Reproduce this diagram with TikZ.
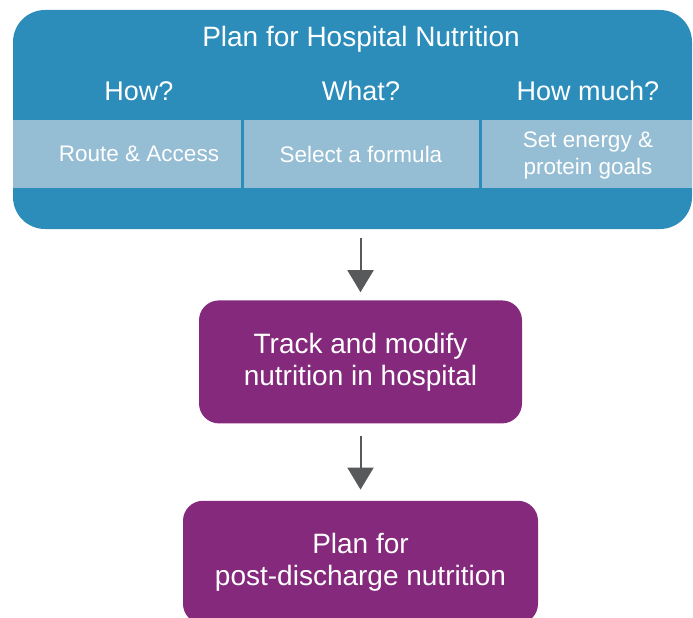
\documentclass[tikz,border=0pt]{standalone}
\usepackage{fontspec}
\setmainfont{Liberation Sans}
\usetikzlibrary{positioning}
\usetikzlibrary{arrows.meta}
\definecolor{planblue}{HTML}{2C8DBB}
\definecolor{celllight}{HTML}{95BDD3}
\definecolor{stagepurple}{HTML}{84297C}
\definecolor{arrowgrey}{HTML}{58595B}
\tikzset {
  % big blue planning panel
  panel/.style = {
    fill = planblue,
    rounded corners = 32pt,
    minimum width = 679pt,
    minimum height = 219pt,
    inner sep = 0
  },
  % white titles on the panel
  head/.style = {
    text = white,
    font = \fontsize{27}{32}\selectfont,
    anchor = base,
    inner sep = 0
  },
  % texts of the light band
  cell/.style = {
    text = white,
    font = \fontsize{22.5}{27}\selectfont,
    align = center,
    inner sep = 0
  },
  % purple step box
  stage/.style = {
    fill = stagepurple,
    text = white,
    rounded corners = 20pt,
    font = \fontsize{28}{32}\selectfont,
    align = center,
    minimum height = 123pt,
    inner sep = 0
  },
  flow/.style = {
    draw = arrowgrey,
    line width = 2pt,
    -{Triangle[length=22pt, width=26pt]}
  },
  node distance = 71pt
}
\begin{document}
\begin{tikzpicture}[x=1pt, y=-1pt]
    \useasboundingbox (0,0) rectangle (693,618);
    \clip (0,0) rectangle (693,618);

    \node[panel] (plan) at (352.5,119.5) {};
    \fill[celllight] (13,120) rectangle (692,188);
    \foreach \x in {242,480}
      \draw[planblue, line width=3pt] (\x,120) -- (\x,188);

    \node[head, font=\fontsize{28}{32}\selectfont] (title) at (361,47) {Plan for Hospital Nutrition};
    \node[head] (how) at (139,100) {How?};
    \node[head] (what) at (361,100) {What?};
    \node[head] (howmuch) at (588,100) {How much?};

    \node[cell] (route) at (139,154) {Route \& Access};
    \node[cell] (formula) at (361,154) {Select a formula};
    \node[cell] (goals) at (588,155.7) {Set energy \&\\protein goals};

    \node[stage, minimum width=323pt] (track) [below=71pt of plan.south, xshift=8pt] {Track and modify\\nutrition in hospital};
    \node[stage, minimum width=355pt] (post) [below=77pt of track] {Plan for\\post-discharge nutrition};

    \draw[flow, shorten <=9pt, shorten >=8pt] (track.north |- plan.south) -- (track.north);
    \draw[flow, shorten <=12pt, shorten >=11pt] (track.south) -- (post.north);
\end{tikzpicture}
\end{document}
